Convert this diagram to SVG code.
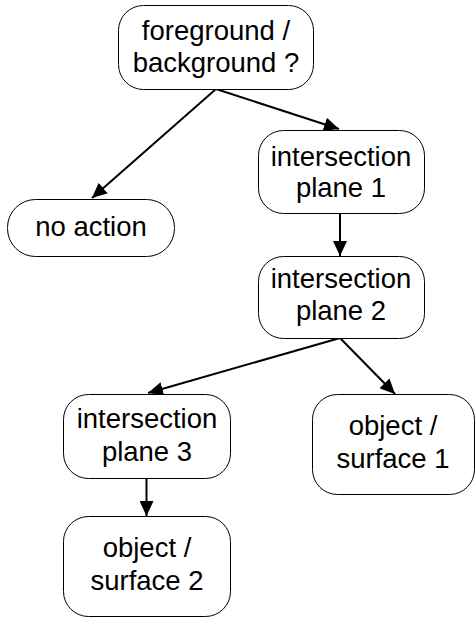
<svg xmlns="http://www.w3.org/2000/svg" width="475" height="617" viewBox="0 0 475 617">
<style>
.n{fill:#fff;stroke:#000;stroke-width:1}
.t{font-family:"Liberation Sans",Arial,sans-serif;font-size:27.5px;fill:#000;text-anchor:middle}
.c{stroke:#000;stroke-width:2;fill:none;marker-end:url(#ah)}
</style>
<defs>
<marker id="ah" viewBox="0 0 15 14" refX="15" refY="7" markerWidth="15" markerHeight="14" markerUnits="userSpaceOnUse" orient="auto">
<path d="M0,0 L15,7 L0,14 z" fill="#000"/>
</marker>
</defs>
<rect width="475" height="617" fill="#fff"/>
<g id="connectors">
<line class="c" x1="216" y1="89" x2="92" y2="198"/>
<line class="c" x1="216" y1="89" x2="339" y2="129"/>
<line class="c" x1="340" y1="214" x2="340" y2="256"/>
<line class="c" x1="340" y1="338" x2="148" y2="393"/>
<line class="c" x1="340" y1="338" x2="395" y2="394"/>
<line class="c" x1="146.5" y1="478" x2="146.5" y2="516"/>
</g>
<g id="n1"><rect class="n" x="118.5" y="5.5" width="195" height="84" rx="25"/><text class="t" x="216" y="40">foreground /</text><text class="t" x="216" y="72">background ?</text></g>
<g id="n2"><rect class="n" x="258.5" y="130.5" width="166" height="83" rx="25"/><text class="t" x="341" y="166">intersection</text><text class="t" x="341" y="197">plane 1</text></g>
<g id="n3"><rect class="n" x="7.5" y="199.5" width="167" height="57" rx="28"/><text class="t" x="91" y="236">no action</text></g>
<g id="n4"><rect class="n" x="258.5" y="256.5" width="166" height="82" rx="25"/><text class="t" x="341" y="288">intersection</text><text class="t" x="341" y="320">plane 2</text></g>
<g id="n5"><rect class="n" x="63.5" y="394.5" width="167" height="84" rx="25"/><text class="t" x="147" y="428">intersection</text><text class="t" x="147" y="461">plane 3</text></g>
<g id="n6"><rect class="n" x="312.5" y="394.5" width="162" height="100" rx="25"/><text class="t" x="393" y="435">object /</text><text class="t" x="393" y="468">surface 1</text></g>
<g id="n7"><rect class="n" x="63.5" y="516.5" width="167" height="100" rx="25"/><text class="t" x="147" y="557">object /</text><text class="t" x="147" y="590">surface 2</text></g>
</svg>
